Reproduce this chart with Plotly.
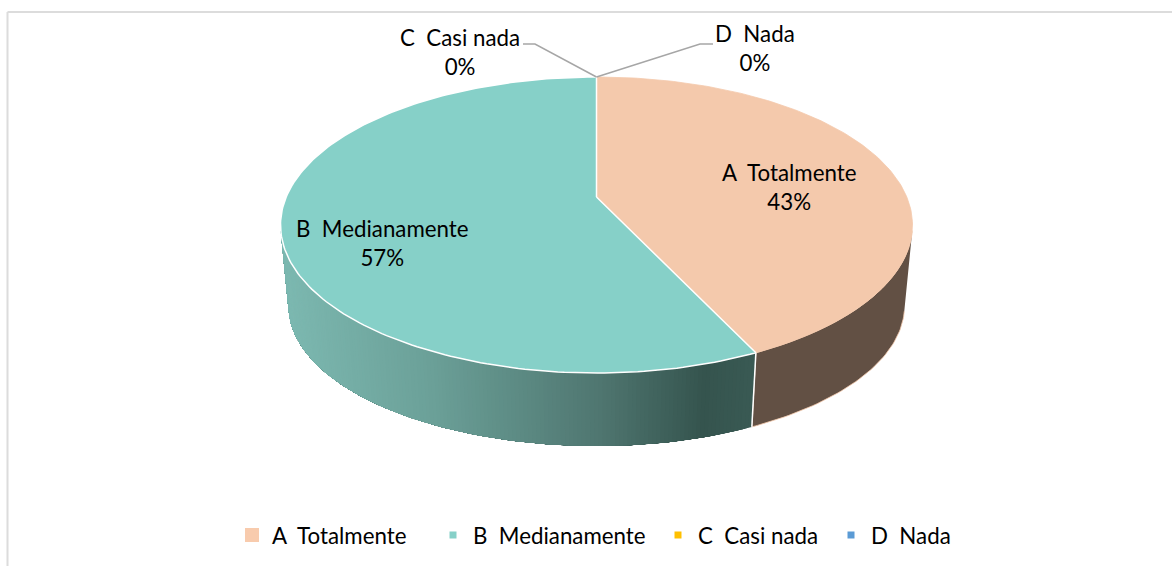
import math
import plotly.graph_objects as go

categories = ["A\u00a0 Totalmente", "B\u00a0 Medianamente", "C\u00a0 Casi nada", "D\u00a0 Nada"]
values = [43, 57, 0, 0]
top_colors = ["#F4C9AC", "#86D0C8", "#FFC000", "#5B9BD5"]
legend_colors = ["#F8CBAD", "#86D0C8", "#FFC000", "#5B9BD5"]
legend_sizes = [14, 7, 7, 7]

W, H = 1172, 566
FONT = "Lato"
FS = 22.3
CX = 596.5
TOP = dict(cy=225.0, rx=316.0, ry=148.0)
BOT = dict(cy=306.0, rx=308.0, ry=140.0)
A = -0.189
A_SIDE = "#625044"
B_STOPS = [(285, (0x7C, 0xB8, 0xB0)), (430, (0x6B, 0xA0, 0x98)), (600, (0x4F, 0x76, 0x70)),
           (705, (0x35, 0x54, 0x4E)), (760, (0x3A, 0x5A, 0x54))]


def project(t, e):
    u, v = math.sin(t), -math.cos(t)
    d = 1 + A * v
    return CX + e["rx"] * u * math.sqrt(1 - A * A) / d, e["cy"] + e["ry"] * (v + A) / d


def apex(e):
    return CX, e["cy"] + e["ry"] * A


def arc(t0, t1, e, step=math.radians(1)):
    n = max(1, int(abs(t1 - t0) / step))
    return [project(t0 + (t1 - t0) * i / n, e) for i in range(n + 1)]


def side_color(x):
    if x <= B_STOPS[0][0]:
        c = B_STOPS[0][1]
    elif x >= B_STOPS[-1][0]:
        c = B_STOPS[-1][1]
    else:
        for (x0, c0), (x1, c1) in zip(B_STOPS, B_STOPS[1:]):
            if x0 <= x <= x1:
                f = (x - x0) / (x1 - x0)
                c = tuple(round(a + (b - a) * f) for a, b in zip(c0, c1))
                break
    return "rgb(%d,%d,%d)" % c


def left_tangent():
    """Common outer tangent of the top and bottom outlines on the left."""
    cand = [math.radians(d) for d in range(235, 306)]
    top_pts = [(t, project(t, TOP)) for t in cand]
    bot_pts = [(t, project(t, BOT)) for t in cand]
    best, best_score = None, -1e18
    for tt, p in top_pts:
        for tb, q in bot_pts:
            dx, dy = q[0] - p[0], q[1] - p[1]
            ln = math.hypot(dx, dy)
            score = min(
                min((r[1][0] - p[0]) * dy - (r[1][1] - p[1]) * dx for r in top_pts + bot_pts) / ln,
                0.0)
            if score > best_score:
                best_score, best = score, (tt, tb)
    return best


total = sum(values)
angles = []
run = 0.0
for v in values:
    start = run / total * 2 * math.pi
    run += v
    angles.append((start, run / total * 2 * math.pi))

fig = go.Figure()


def poly(pts, fill, line=None, width=0.0, close=True):
    xs = [p[0] for p in pts]
    ys = [p[1] for p in pts]
    fig.add_trace(go.Scatter(
        x=xs, y=ys, mode="lines", fill="toself" if close else None,
        fillcolor=fill, line=dict(color=line or fill or "#000000", width=width),
        showlegend=False, hoverinfo="skip"))


left_top, left_bot = left_tangent()
right_top, right_bot = 2 * math.pi - left_top, 2 * math.pi - left_bot

# sides: slice A is flat; slice B is painted over itself into a horizontal gradient
a0, a1 = angles[0]
b0, b1 = angles[1]
poly(arc(right_top, a1, TOP) + arc(a1, right_bot, BOT), A_SIDE, "#F4C9AC", 0.8)
end = min(left_top, left_bot)
n = 160
for i in range(n):
    s0 = b0 + (end - b0) * i / n
    s1 = b0 + (end - b0) * (i + 1) / n
    px = (project(s0, TOP)[0] + project(s1, TOP)[0]) / 2
    poly(arc(s0, left_top, TOP) + arc(left_bot, s0, BOT), side_color(px))
# white seam between side faces
poly([project(a1, TOP), project(a1, BOT)], None, "#FFFFFF", 1.5, close=False)

# top faces
poly([apex(TOP)] + arc(a0, a1, TOP) + [apex(TOP)], top_colors[0], top_colors[0], 0.8)
poly([apex(TOP)] + arc(b0, b1, TOP) + [apex(TOP)], top_colors[1], "#FFFFFF", 1.5)

# leader lines to the zero-size slices
top_pt = project(0.0, TOP)
poly([(523, 44), (535, 44), top_pt], None, "#A6A6A6", 1.5, close=False)
poly([(713, 44), (700, 44), top_pt], None, "#A6A6A6", 1.5, close=False)

# legend: one legend per item so that spacing can follow the reference
legend_x = [232, 433, 658, 831]
layout_legends = {}
for i, name in enumerate(categories):
    key = "legend" if i == 0 else f"legend{i + 1}"
    fig.add_trace(go.Scatter(
        x=[None], y=[None], mode="markers", name=name, legend=key,
        marker=dict(symbol="square", size=legend_sizes[i], color=legend_colors[i]),
        hoverinfo="skip", showlegend=True))
    layout_legends[key] = dict(
        x=legend_x[i] / W, y=1 - 535 / H, xanchor="left", yanchor="middle",
        orientation="h", bgcolor="rgba(0,0,0,0)", borderwidth=0,
        font=dict(family=FONT, size=FS, color="#000000"))

label_pos = [(789, 186.5), (382, 242.5), (460, 52), (755, 47.5)]
annotations = []
for name, v, (lx, ly) in zip(categories, values, label_pos):
    annotations.append(dict(
        x=lx, y=ly, xref="x", yref="y", showarrow=False,
        text=f"{name}<br>{round(v / total * 100)}%", align="center",
        xanchor="center", yanchor="middle",
        font=dict(family=FONT, size=FS, color="#000000")))

shapes = [
    dict(type="line", xref="x", yref="y", x0=7.5, x1=7.5, y0=12, y1=H,
         line=dict(color="#DCDCDC", width=2), layer="below"),
    dict(type="line", xref="x", yref="y", x0=7.5, x1=W, y0=12, y1=12,
         line=dict(color="#DCDCDC", width=2), layer="below"),
]

fig.update_layout(
    width=W, height=H, margin=dict(l=0, r=0, t=0, b=0),
    paper_bgcolor="#FFFFFF", plot_bgcolor="#FFFFFF",
    xaxis=dict(range=[0, W], visible=False, fixedrange=True),
    yaxis=dict(range=[H, 0], visible=False, fixedrange=True),
    annotations=annotations, shapes=shapes, hovermode=False,
    **layout_legends)

fig.write_html("out.html", config={"displayModeBar": False},
               post_script="document.body.style.margin='0';document.documentElement.style.overflow='hidden';")
